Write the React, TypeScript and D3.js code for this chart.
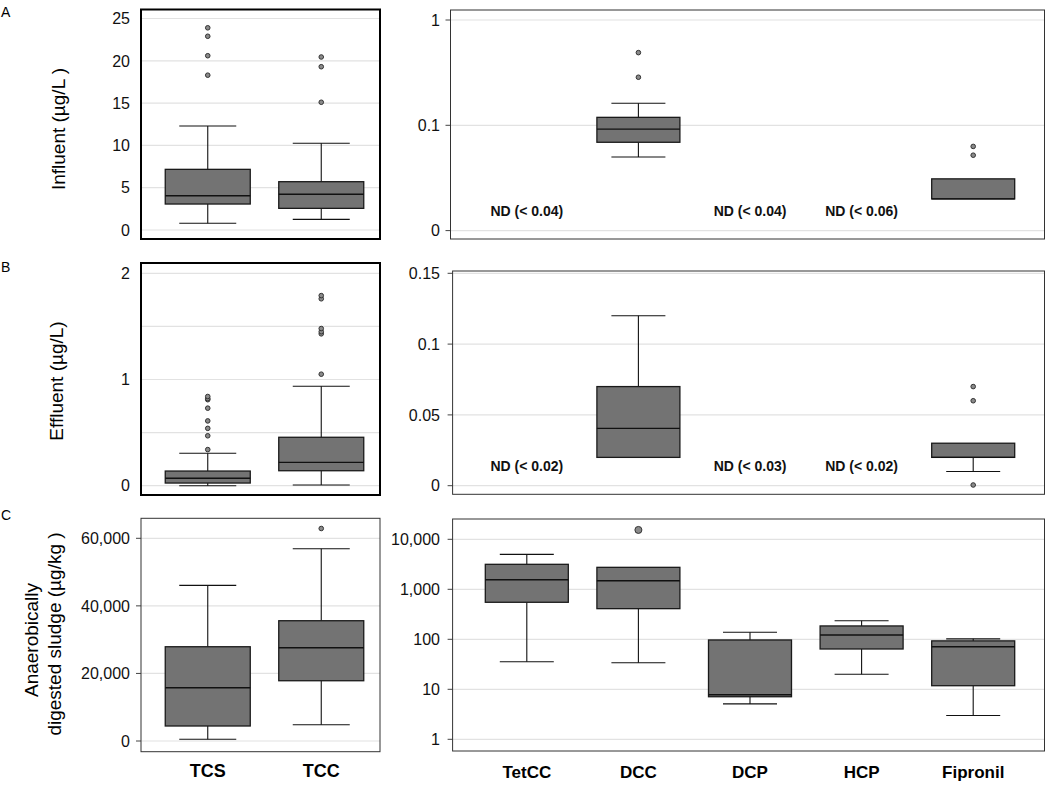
import React from "react";
import * as d3 from "d3";

const leftCategories = ["TCS", "TCC"];
const rightCategories = ["TetCC", "DCC", "DCP", "HCP", "Fipronil"];

// box stats per category: [lower whisker, Q1, median, Q3, upper whisker]
const influentLeftStats = [
  [0.8, 3.07, 4.05, 7.17, 12.3],
  [1.26, 2.56, 4.22, 5.71, 10.25],
];
const influentLeftOutliers = [[18.3, 20.6, 22.9, 23.9], [15.1, 19.3, 20.45]];
const influentRightStats = [null, [0.05, 0.069, 0.092, 0.119, 0.162], null, null, [0.02, 0.02, 0.02, 0.031, 0.031]];
const influentRightOutliers = [[], [0.286, 0.49], [], [], [0.052, 0.063]];
const influentND = ["ND (< 0.04)", null, "ND (< 0.04)", "ND (< 0.06)", null];

const effluentLeftStats = [
  [0.0, 0.025, 0.07, 0.138, 0.305],
  [0.007, 0.141, 0.22, 0.456, 0.936],
];
const effluentLeftOutliers = [
  [0.34, 0.47, 0.54, 0.61, 0.73, 0.81, 0.82, 0.84],
  [1.05, 1.43, 1.45, 1.48, 1.76, 1.79],
];
const effluentRightStats = [null, [0.02, 0.02, 0.0405, 0.07, 0.12], null, null, [0.01, 0.02, 0.02, 0.03, 0.03]];
const effluentRightOutliers = [[], [], [], [], [0.0005, 0.06, 0.07]];
const effluentND = ["ND (< 0.02)", null, "ND (< 0.03)", "ND (< 0.02)", null];

const sludgeLeftStats = [
  [500, 4440, 15770, 27900, 46060],
  [4820, 17840, 27600, 35600, 56900],
];
const sludgeLeftOutliers = [[], [62900]];
const sludgeRightStats = [
  [35.6, 550, 1550, 3160, 5000],
  [34, 410, 1480, 2750, 2750],
  [5.1, 7.1, 7.8, 97, 138],
  [20, 64, 122, 185, 235],
  [3.0, 11.8, 71, 93, 102],
];
const sludgeRightOutliers = [[], [15400], [], [], []];

const influentLeftTicks = [0, 5, 10, 15, 20, 25];
const influentRightTicks = [0.01, 0.1, 1];
const influentRightTickLabels = ["0", "0.1", "1"];
const effluentLeftTicks = [0, 1, 2];
const effluentLeftGrid = [0, 0.5, 1, 1.5, 2];
const effluentRightTicks = [0, 0.05, 0.1, 0.15];
const sludgeLeftTicks = [0, 20000, 40000, 60000];
const sludgeRightTicks = [1, 10, 100, 1000, 10000];

const FONT = "Liberation Sans, Arial, Helvetica, sans-serif";
const BOX_FILL = "#737373";

type PanelProps = {
  frame: [number, number, number, number];
  frameWidth: number;
  frameColor: string;
  y: any;
  x: any;
  categories: string[];
  stats: (number[] | null)[];
  outliers: number[][];
  ticks: number[];
  tickLabels: string[];
  grid: number[];
  boxW: number;
  capW: number;
  tickFont: number;
  labelRight: number;
  showTicks: boolean;
  nd?: (string | null)[];
  ndY?: number;
  outR?: number;
};

function Panel(p: PanelProps) {
  const [x0, y0, x1, y1] = p.frame;
  const r = p.outR ?? 2.3;
  return (
    <g>
      {p.grid.map((g, i) => (
        <line key={"g" + i} x1={x0} x2={x1} y1={p.y(g)} y2={p.y(g)} stroke="#e2e2e2" strokeWidth={1.2} />
      ))}
      {p.ticks.map((t, i) => (
        <g key={"t" + i}>
          {p.showTicks && <line x1={x0 - 5} x2={x0} y1={p.y(t)} y2={p.y(t)} stroke="#444" strokeWidth={1} />}
          <text x={p.labelRight} y={p.y(t)} dy="0.36em" textAnchor="end" fontSize={p.tickFont} fontFamily={FONT} fill="#111">
            {p.tickLabels[i]}
          </text>
        </g>
      ))}
      {p.stats.map((s, i) => {
        if (!s) return null;
        const cx = p.x(p.categories[i]);
        const [lo, q1, med, q3, hi] = s;
        return (
          <g key={"b" + i}>
            {lo < q1 && (
              <>
                <line x1={cx} x2={cx} y1={p.y(lo)} y2={p.y(q1)} stroke="#111" strokeWidth={1.1} />
                <line x1={cx - p.capW / 2} x2={cx + p.capW / 2} y1={p.y(lo)} y2={p.y(lo)} stroke="#111" strokeWidth={1.1} />
              </>
            )}
            {hi > q3 && (
              <>
                <line x1={cx} x2={cx} y1={p.y(hi)} y2={p.y(q3)} stroke="#111" strokeWidth={1.1} />
                <line x1={cx - p.capW / 2} x2={cx + p.capW / 2} y1={p.y(hi)} y2={p.y(hi)} stroke="#111" strokeWidth={1.1} />
              </>
            )}
            <rect
              x={cx - p.boxW / 2}
              width={p.boxW}
              y={p.y(q3)}
              height={p.y(q1) - p.y(q3)}
              fill={BOX_FILL}
              stroke="#1a1a1a"
              strokeWidth={1.3}
            />
            <line x1={cx - p.boxW / 2} x2={cx + p.boxW / 2} y1={p.y(med)} y2={p.y(med)} stroke="#111" strokeWidth={1.4} />
          </g>
        );
      })}
      {p.outliers.map((os, i) =>
        os.map((o, j) => (
          <circle key={"o" + i + "-" + j} cx={p.x(p.categories[i])} cy={p.y(o)} r={r} fill="#8a8a8a" stroke="#333" strokeWidth={1} />
        ))
      )}
      {p.nd &&
        p.nd.map((t, i) =>
          t ? (
            <text key={"n" + i} x={p.x(p.categories[i])} y={p.ndY} textAnchor="middle" fontSize={14} fontWeight="bold" fontFamily={FONT} fill="#111">
              {t}
            </text>
          ) : null
        )}
      <rect x={x0} y={y0} width={x1 - x0} height={y1 - y0} fill="none" stroke={p.frameColor} strokeWidth={p.frameWidth} />
    </g>
  );
}

export default function App() {
  const xLeft = d3.scalePoint<string>().domain(leftCategories).range([151, 378]).padding(0.5);
  const xRight = d3.scalePoint<string>().domain(rightCategories).range([471, 1029]).padding(0.5);

  const yAL = d3.scaleLinear().domain([0, 25]).range([230, 18.5]);
  const yAR = d3.scaleLog().domain([0.01, 1]).range([230.6, 20]);
  const yBL = d3.scaleLinear().domain([0, 2]).range([485.7, 273.3]);
  const yBR = d3.scaleLinear().domain([0, 0.15]).range([485.7, 273.3]);
  const yCL = d3.scaleLinear().domain([0, 60000]).range([741, 538.3]);
  const yCR = d3.scaleLog().domain([1, 10000]).range([739.3, 539.3]);

  const fmtPlain = (v: number) => String(v);
  const fmtComma = d3.format(",");

  const leftCommon = { x: xLeft, categories: leftCategories, boxW: 85, capW: 57, tickFont: 16, labelRight: 130 };
  const rightCommon = { x: xRight, categories: rightCategories, boxW: 83, capW: 54, tickFont: 16, labelRight: 440, showTicks: true };

  return (
    <svg width={1050} height={785} style={{ position: "absolute", left: 0, top: 0, background: "#fff" }} fontFamily={FONT}>
      <rect x={0} y={0} width={1050} height={785} fill="#fff" />
      {/* Panel letters */}
      <text x={1} y={17} fontSize={14} fontFamily={FONT}>A</text>
      <text x={1} y={272} fontSize={14} fontFamily={FONT}>B</text>
      <text x={1} y={520} fontSize={14} fontFamily={FONT}>C</text>

      {/* Y titles */}
      <text transform="translate(65,129) rotate(-90)" textAnchor="middle" fontSize={19} fontFamily={FONT}>Influent (µg/L )</text>
      <text transform="translate(62.5,381) rotate(-90)" textAnchor="middle" fontSize={19} fontFamily={FONT}>Effluent (µg/L)</text>
      <text transform="translate(38,640) rotate(-90)" textAnchor="middle" fontSize={19} fontFamily={FONT}>Anaerobically</text>
      <text transform="translate(61,634) rotate(-90)" textAnchor="middle" fontSize={19} fontFamily={FONT}>digested sludge (µg/kg )</text>

      <Panel
        {...leftCommon}
        frame={[141, 9.5, 380, 239]}
        frameWidth={2}
        frameColor="#000"
        y={yAL}
        stats={influentLeftStats}
        outliers={influentLeftOutliers}
        ticks={influentLeftTicks}
        tickLabels={influentLeftTicks.map(fmtPlain)}
        grid={influentLeftTicks}
        showTicks={false}
      />
      <Panel
        {...rightCommon}
        frame={[450.5, 10, 1044.5, 239]}
        frameWidth={1}
        frameColor="#333"
        y={yAR}
        stats={influentRightStats}
        outliers={influentRightOutliers}
        ticks={influentRightTicks}
        tickLabels={influentRightTickLabels}
        grid={influentRightTicks}
        nd={influentND}
        ndY={215.5}
      />
      <Panel
        {...leftCommon}
        frame={[141, 263, 380, 495]}
        frameWidth={2}
        frameColor="#000"
        y={yBL}
        stats={effluentLeftStats}
        outliers={effluentLeftOutliers}
        ticks={effluentLeftTicks}
        tickLabels={effluentLeftTicks.map(fmtPlain)}
        grid={effluentLeftGrid}
        showTicks={false}
      />
      <Panel
        {...rightCommon}
        frame={[452.6, 271, 1044.5, 494.3]}
        frameWidth={1}
        frameColor="#333"
        y={yBR}
        stats={effluentRightStats}
        outliers={effluentRightOutliers}
        ticks={effluentRightTicks}
        tickLabels={effluentRightTicks.map(fmtPlain)}
        grid={effluentRightTicks}
        nd={effluentND}
        ndY={471}
      />
      <Panel
        {...leftCommon}
        frame={[141, 518.3, 380, 751.7]}
        frameWidth={1}
        frameColor="#333"
        y={yCL}
        stats={sludgeLeftStats}
        outliers={sludgeLeftOutliers}
        ticks={sludgeLeftTicks}
        tickLabels={sludgeLeftTicks.map(fmtComma)}
        grid={sludgeLeftTicks}
        showTicks={true}
      />
      <Panel
        {...rightCommon}
        frame={[452.6, 519, 1044.5, 751]}
        frameWidth={1}
        frameColor="#333"
        y={yCR}
        stats={sludgeRightStats}
        outliers={sludgeRightOutliers}
        ticks={sludgeRightTicks}
        tickLabels={sludgeRightTicks.map(fmtComma)}
        grid={sludgeRightTicks}
        outR={3.5}
      />

      {/* Category labels */}
      {leftCategories.map((c) => (
        <text key={c} x={xLeft(c)} y={777} textAnchor="middle" fontSize={18} fontWeight="bold" fontFamily={FONT}>{c}</text>
      ))}
      {rightCategories.map((c) => (
        <text key={c} x={xRight(c)} y={778} textAnchor="middle" fontSize={17} fontWeight="bold" fontFamily={FONT}>{c}</text>
      ))}
    </svg>
  );
}
